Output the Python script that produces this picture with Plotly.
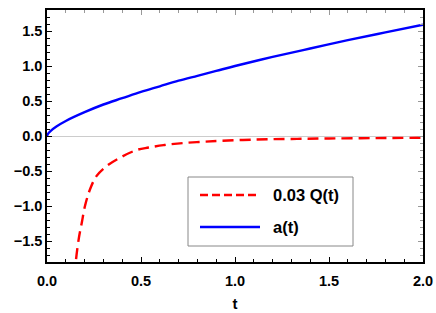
import plotly.graph_objects as go

# a(t)
t_a = [0.0, 0.005, 0.02, 0.05, 0.1, 0.2, 0.3, 0.4, 0.5, 0.6, 0.7, 0.8, 0.9, 1.0,
       1.2, 1.4, 1.6, 1.8, 2.0]
a_vals = [0.0, 0.03, 0.074, 0.136, 0.215, 0.34, 0.45, 0.54, 0.63, 0.71, 0.79, 0.86,
          0.93, 1.0, 1.13, 1.25, 1.37, 1.48, 1.59]

# 0.03 Q(t)
t_q = [0.150, 0.154, 0.170, 0.185, 0.202, 0.229, 0.264, 0.317, 0.388, 0.477, 0.54,
       0.62, 0.707, 0.81, 0.92, 1.115, 1.3, 1.5, 1.75, 2.0]
q_vals = [-2.0, -1.78, -1.45, -1.24, -1.0, -0.76, -0.57, -0.43, -0.31, -0.2, -0.165,
          -0.13, -0.105, -0.085, -0.07, -0.05, -0.042, -0.035, -0.03, -0.025]

legend_labels = ["0.03 Q(t)", "a(t)"]
x_ticks = [0.0, 0.5, 1.0, 1.5, 2.0]
y_ticks = [-1.5, -1.0, -0.5, 0.0, 0.5, 1.0, 1.5]

W, H = 436, 313
L, R, T, B = 47, 13, 10, 51
FONT = "Liberation Sans, Arial, sans-serif"

fig = go.Figure()
fig.add_trace(go.Scatter(x=t_q, y=q_vals, mode="lines", line_shape="spline",
                         line=dict(color="#ff0000", width=2.4, dash="11px,6px"),
                         showlegend=False, name=legend_labels[0]))
fig.add_trace(go.Scatter(x=t_a, y=a_vals, mode="lines", line_shape="spline",
                         line=dict(color="#0000ff", width=2.4),
                         showlegend=False, name=legend_labels[1]))

pw = W - L - R
ph = H - T - B
def px(x):
    return (x - L) / pw
def py(y):
    return (H - B - y) / ph

# legend box
fig.add_shape(type="rect", xref="paper", yref="paper",
              x0=px(188), x1=px(353), y0=py(246), y1=py(177),
              line=dict(color="#888888", width=1), fillcolor="white", layer="above")
fig.add_shape(type="line", xref="paper", yref="paper",
              x0=px(200), x1=px(260), y0=py(195), y1=py(195),
              line=dict(color="#ff0000", width=2.4, dash="8px,4px"), layer="above")
fig.add_shape(type="line", xref="paper", yref="paper",
              x0=px(200), x1=px(260), y0=py(227), y1=py(227),
              line=dict(color="#0000ff", width=2.4), layer="above")
for lab, yy in zip(legend_labels, [195, 227]):
    fig.add_annotation(x=px(271), y=py(yy), xref="paper", yref="paper",
                       text="<b>%s</b>" % lab, showarrow=False, xanchor="left",
                       yanchor="middle", font=dict(family=FONT, size=16.5, color="black"))

tickfont = dict(family=FONT, size=14.5, color="black", weight="bold")
axis_common = dict(showgrid=False, ticks="inside", tickcolor="black", tickwidth=1,
                   ticklen=5, showline=True, linecolor="black", linewidth=1.5,
                   mirror=True, tickformat=".1f", automargin=False,
                   tickfont=tickfont)

fig.update_layout(
    width=W, height=H, margin=dict(l=L, r=R, t=T, b=B, autoexpand=False),
    paper_bgcolor="white", plot_bgcolor="white",
    xaxis=dict(range=[0, 2], tickvals=x_ticks, zeroline=False, ticklabelstandoff=5,
               minor=dict(ticks="inside", dtick=0.1, ticklen=3, tickcolor="black"),
               title=dict(text="<b>t</b>", font=dict(family=FONT, size=15, color="black"),
                          standoff=10),
               **axis_common),
    yaxis=dict(range=[-1.8, 1.8], tickvals=y_ticks, zeroline=True,
               zerolinecolor="#cccccc", zerolinewidth=1,
               minor=dict(ticks="inside", dtick=0.1, ticklen=3, tickcolor="black"),
               **axis_common),
    xaxis2=dict(overlaying="x", side="top", range=[0, 2], tickvals=x_ticks,
                showticklabels=False, ticks="inside", ticklen=5, tickcolor="#999999",
                minor=dict(ticks="inside", dtick=0.1, ticklen=3, tickcolor="#999999"),
                showgrid=False, zeroline=False, showline=False, automargin=False),
    yaxis2=dict(overlaying="y", side="right", range=[-1.8, 1.8], tickvals=y_ticks,
                showticklabels=False, ticks="inside", ticklen=5, tickcolor="#999999",
                minor=dict(ticks="inside", dtick=0.1, ticklen=3, tickcolor="#999999"),
                showgrid=False, zeroline=False, showline=False, automargin=False),
    font=dict(family=FONT, color="black"),
)
# invisible trace that activates the mirrored tick axes
fig.add_trace(go.Scatter(x=[0], y=[0], xaxis="x2", yaxis="y2", mode="markers",
                         marker=dict(opacity=0), showlegend=False, hoverinfo="skip"))

fig.write_html("out.html", config={"displayModeBar": False},
               post_script="document.body.style.margin='0';document.body.style.padding='0';")
